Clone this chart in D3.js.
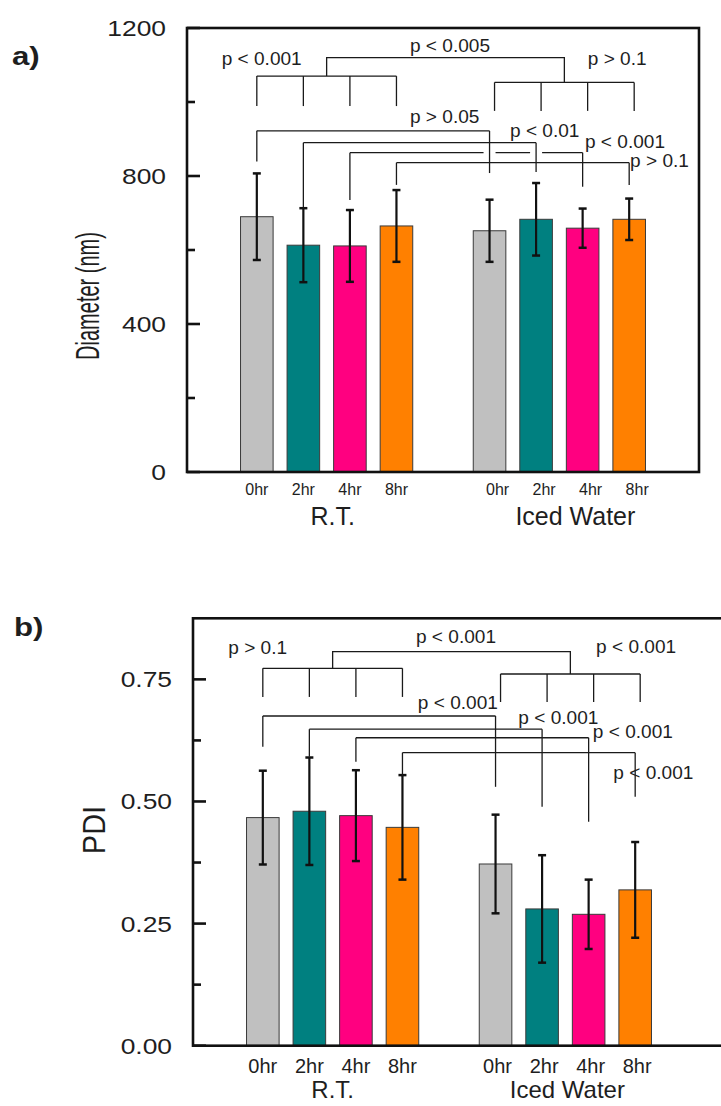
<!DOCTYPE html>
<html><head><meta charset="utf-8">
<script src="https://cdn.jsdelivr.net/npm/d3@7"></script>
<style>
body{margin:0;background:#fff}
svg{display:block}
text{font-family:"Liberation Sans",Arial,Helvetica,sans-serif;fill:#1e1e1e}
</style>
</head><body>
<svg id="chart" width="721" height="1106"></svg>
<script>
// ---------------- data ----------------
const groups = ["R.T.", "Iced Water"];
const times = ["0hr", "2hr", "4hr", "8hr"];
const barColors = ["#c0c0c0", "#008080", "#ff0080", "#ff8000"];

const diameterMean = [690, 613, 611, 665, 652, 683, 659, 683];
const diameterErr  = [117, 100, 97, 97, 84, 98, 53, 56];
const pdiMean = [0.467, 0.480, 0.471, 0.447, 0.372, 0.280, 0.269, 0.319];
const pdiErr  = [0.096, 0.110, 0.093, 0.107, 0.101, 0.110, 0.071, 0.098];

const diameterTicks = [0, 400, 800, 1200];
const diameterMinor = [200, 600, 1000];
const pdiTicks = [0, 0.25, 0.50, 0.75];
const pdiMinor = [0.125, 0.375, 0.625];

// significance annotations (text)
const diameterGroupP = ["p < 0.001", "p < 0.005", "p > 0.1"];
const diameterPairP  = ["p > 0.05", "p < 0.01", "p < 0.001", "p > 0.1"];
const pdiGroupP = ["p > 0.1", "p < 0.001", "p < 0.001"];
const pdiPairP  = ["p < 0.001", "p < 0.001", "p < 0.001", "p < 0.001"];

// ---------------- layout (positions of annotations, in axis units) ----------------
const diameterAnno = {
  groupLine: [1070, 1053], groupEnd: [989, 976], link: 1120,
  groupLabelPos: [[0.745, 1100], [4.79, 1136], [8.61, 1100]],
  pairLine: [922, 890, 863, 836], pairFrom: [839, 716, 735, 776], pairTo: [808, 811, 771, 776],
  pairGaps: [false, false, true, false],
  pairLabelPos: [[4.79, 942], [6.94, 906], [8.55, 875], [9.52, 825]]
};
const pdiAnno = {
  groupLine: [0.7726, 0.761], groupEnd: [0.714, 0.7036], link: 0.8066,
  groupLabelPos: [[0.758, 0.802], [4.79, 0.824], [8.66, 0.8045]],
  pairLine: [0.675, 0.648, 0.6305, 0.600], pairFrom: [0.612, 0.5916, 0.5814, 0.5507], pairTo: [0.530, 0.489, 0.4585, 0.5097],
  pairGaps: [false, false, false, false],
  pairLabelPos: [[4.83, 0.6886], [6.99, 0.6585], [8.59, 0.629], [9.03, 0.5453]]
};

const svg = d3.select("#chart");

function txt(g, x, y, s, size, sx, anchor, weight) {
  return g.append("text")
    .attr("transform", `translate(${x},${y}) scale(${sx},1)`)
    .attr("text-anchor", anchor || "start")
    .attr("font-size", size)
    .attr("font-weight", weight || "normal")
    .text(s);
}

function drawPanel(cfg) {
  const g = svg.append("g");
  const x = d3.scaleLinear().domain([0, 11]).range([cfg.left, cfg.left + 512]);
  const y = d3.scaleLinear().domain([0, cfg.yMax]).range([cfg.bottom, cfg.top]);
  const slot = (i) => Math.floor(i / 4) * 5 + (i % 4) + 1.5;
  const bw = (x(0.7) - x(0));
  const idx = d3.range(cfg.mean.length);

  // bars
  g.selectAll("rect.bar").data(idx).join("rect")
    .attr("x", i => x(slot(i)) - bw / 2)
    .attr("y", i => y(cfg.mean[i]))
    .attr("width", bw)
    .attr("height", i => y(0) - y(cfg.mean[i]))
    .attr("fill", i => barColors[i % 4])
    .attr("stroke", "#3a3a3a").attr("stroke-width", 1);

  // error bars
  const eb = g.append("g").attr("stroke", "#111");
  idx.forEach(i => {
    const cx = x(slot(i)), hi = y(cfg.mean[i] + cfg.err[i]), lo = y(cfg.mean[i] - cfg.err[i]);
    eb.append("line").attr("x1", cx).attr("x2", cx).attr("y1", hi).attr("y2", lo).attr("stroke-width", 2.2);
    [hi, lo].forEach(yy => eb.append("line").attr("x1", cx - 4).attr("x2", cx + 4).attr("y1", yy).attr("y2", yy).attr("stroke-width", 2.5));
  });

  // brackets
  const br = g.append("g").attr("stroke", "#1a1a1a").attr("stroke-width", 1.3).attr("fill", "none");
  const A = cfg.anno;
  const dropX = [0, 1].map(gi => d3.range(4).map(j => x(slot(gi * 4 + j)) + (gi === 1 ? cfg.icedShift : 0)));
  [0, 1].forEach(gi => {
    const xs = dropX[gi];
    br.append("line").attr("x1", xs[0]).attr("x2", xs[3]).attr("y1", y(A.groupLine[gi])).attr("y2", y(A.groupLine[gi]));
    xs.forEach(xx => br.append("line").attr("x1", xx).attr("x2", xx).attr("y1", y(A.groupLine[gi])).attr("y2", y(A.groupEnd[gi])));
  });
  const lx0 = (dropX[0][1] + dropX[0][2]) / 2, lx1 = (dropX[1][1] + dropX[1][2]) / 2;
  br.append("path").attr("d", `M${lx0},${y(A.groupLine[0])}V${y(A.link)}H${lx1}V${y(A.groupLine[1])}`);

  const rightX = d3.range(4).map(j => x(slot(4 + j)));
  d3.range(4).forEach(j => {
    const xl = x(slot(j)), xr = rightX[j], yl = y(A.pairLine[j]);
    br.append("line").attr("x1", xl).attr("x2", xl).attr("y1", yl).attr("y2", y(A.pairFrom[j]));
    br.append("line").attr("x1", xr).attr("x2", xr).attr("y1", yl).attr("y2", y(A.pairTo[j]));
    if (A.pairGaps[j]) {
      const cuts = rightX.slice(0, j);
      let cur = xl;
      cuts.forEach(c => {
        br.append("line").attr("x1", cur).attr("x2", c - 6).attr("y1", yl).attr("y2", yl);
        cur = c + 6;
      });
      br.append("line").attr("x1", cur).attr("x2", xr).attr("y1", yl).attr("y2", yl);
    } else {
      br.append("line").attr("x1", xl).attr("x2", xr).attr("y1", yl).attr("y2", yl);
    }
  });

  // p labels
  cfg.groupP.forEach((t, k) => txt(g, x(A.groupLabelPos[k][0]), y(A.groupLabelPos[k][1]), t, 18, 1.06));
  cfg.pairP.forEach((t, k) => txt(g, x(A.pairLabelPos[k][0]), y(A.pairLabelPos[k][1]), t, 18, 1.06));

  // frame
  const fr = g.append("g").attr("stroke", "#111").attr("fill", "none").attr("stroke-width", 2.6);
  fr.append("rect").attr("x", x(0)).attr("y", y(cfg.yMax)).attr("width", x(cfg.frameRight) - x(0)).attr("height", y(0) - y(cfg.yMax));
  // ticks (inward)
  cfg.ticks.forEach(v => fr.append("line").attr("x1", x(0)).attr("x2", x(0) + 13).attr("y1", y(v)).attr("y2", y(v)));
  cfg.minor.forEach(v => fr.append("line").attr("x1", x(0)).attr("x2", x(0) + 8).attr("y1", y(v)).attr("y2", y(v)));

  // tick labels
  cfg.ticks.forEach(v => txt(g, x(0) - 21, y(v) + 8, cfg.fmt(v), 22, 1.2, "end"));

  // x tick labels
  idx.forEach(i => txt(g, x(slot(i)) + cfg.tickShift[Math.floor(i / 4)], cfg.tickBase, times[i % 4], cfg.tickSize, 1.0, "middle"));
  groups.forEach((gname, gi) => {
    const cx = (x(slot(gi * 4)) + x(slot(gi * 4 + 3))) / 2 + cfg.groupShift[gi];
    txt(g, cx, cfg.groupBase, gname, cfg.groupSize, 1.0, "middle");
  });

  // y label
  g.append("text")
    .attr("transform", `translate(${cfg.ylabX},${cfg.ylabY}) rotate(-90) scale(${cfg.ylabSx},${cfg.ylabSy})`)
    .attr("text-anchor", "middle").attr("font-size", cfg.ylabSize).text(cfg.ylabel);

  // panel letter
  txt(g, cfg.letterX, cfg.letterY, cfg.letter, 26, 1.2, "start", "bold");
}

drawPanel({
  left: 187, top: 28, bottom: 472, yMax: 1200, frameRight: 11,
  mean: diameterMean, err: diameterErr, ticks: diameterTicks, minor: diameterMinor,
  fmt: d3.format("d"), anno: diameterAnno, groupP: diameterGroupP, pairP: diameterPairP,
  icedShift: 5, tickShift: [0, 8], tickBase: 495, tickSize: 16,
  groupShift: [6, 16], groupBase: 525, groupSize: 25,
  ylabel: "Diameter (nm)", ylabX: 99, ylabY: 296, ylabSize: 26, ylabSx: 0.77, ylabSy: 1.27,
  letter: "a)", letterX: 12, letterY: 65
});

drawPanel({
  left: 193, top: 618.3, bottom: 1045.7, yMax: 0.875, frameRight: 11.8,
  mean: pdiMean, err: pdiErr, ticks: pdiTicks, minor: pdiMinor,
  fmt: d3.format(".2f"), anno: pdiAnno, groupP: pdiGroupP, pairP: pdiPairP,
  icedShift: 5, tickShift: [0, 2], tickBase: 1073, tickSize: 20,
  groupShift: [0, 2], groupBase: 1098, groupSize: 24,
  ylabel: "PDI", ylabX: 105, ylabY: 830, ylabSize: 29, ylabSx: 1.0, ylabSy: 1.1,
  letter: "b)", letterX: 14, letterY: 636
});
</script>
</body></html>
